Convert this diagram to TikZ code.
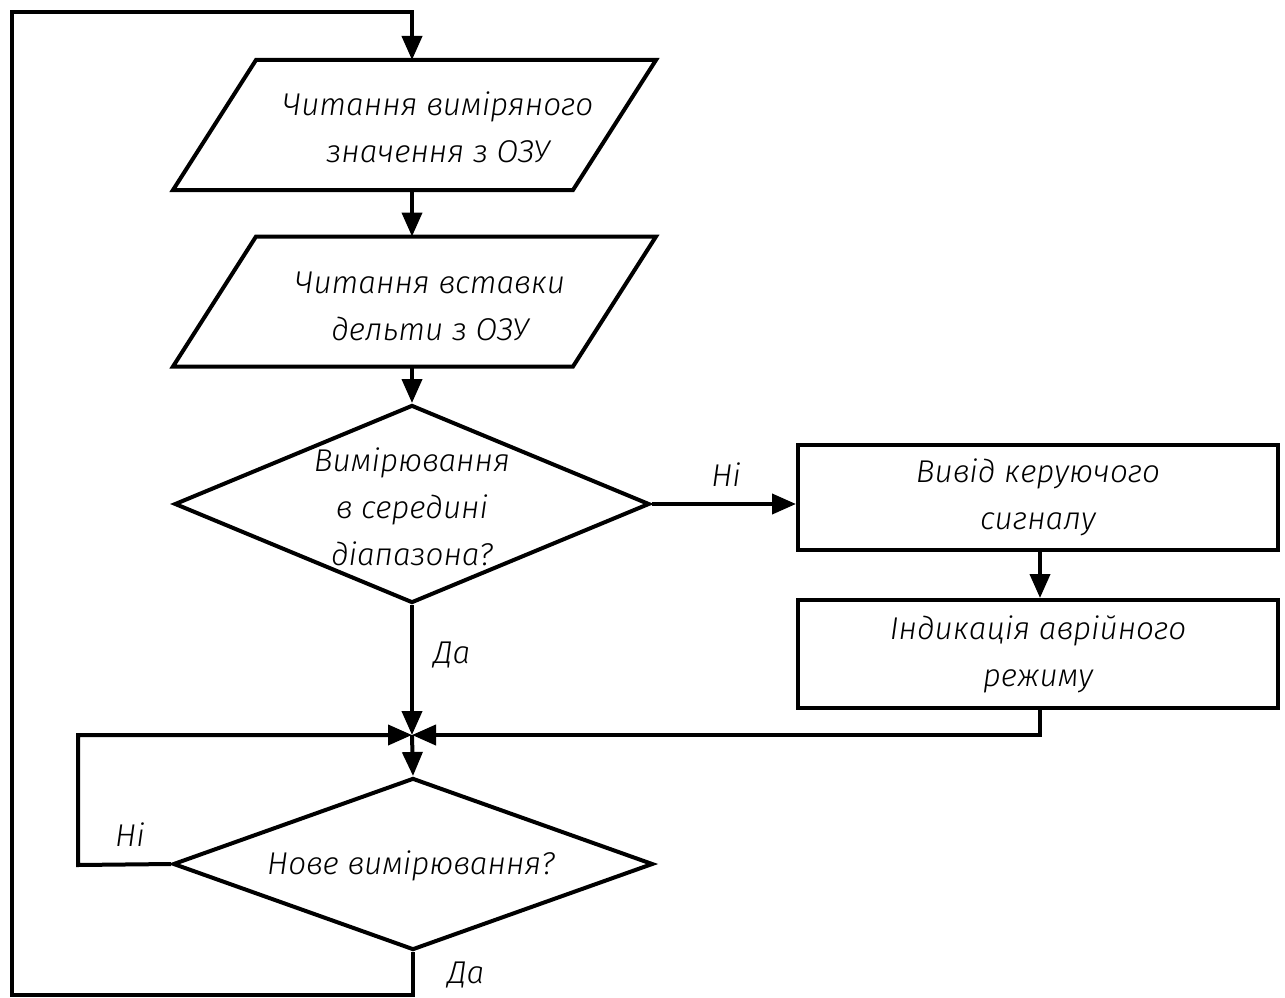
\documentclass[tikz,border=0pt]{standalone}
\usepackage{fontspec}
\setmainfont{Fira Sans Light Italic}
\usetikzlibrary{shapes.geometric,arrows.meta,calc}
\begin{document}
\begin{tikzpicture}[x=1pt,y=-1pt,
  line width=4pt,
  >={Triangle[length=24pt,width=20pt]},
  every node/.style={font=\fontsize{31.5}{47}\selectfont},
  pbase/.style={rectangle, minimum width=396pt, minimum height=126pt, inner sep=0pt},
  dia/.style={draw, diamond, inner sep=0pt, align=center},
  stepbox/.style={draw, rectangle, align=center, minimum width=480pt, inner sep=0pt},
  txt/.style={align=center, inner sep=0pt}
]
\useasboundingbox[fill=white] (0,0) rectangle (1285,998);

\coordinate (J) at (412,735);
\coordinate (nl) at (78,865);
\coordinate (lb) at (12,995);
\coordinate (lt) at (12,12);

\node[pbase] (p1) at (414.5,125) {};
\draw ([xshift=41.5pt]p1.north west) -- ([xshift=41.5pt]p1.north east)
  -- ([xshift=-41.5pt]p1.south east) -- ([xshift=-41.5pt]p1.south west) -- cycle;
\node[txt] (p1t) at (438,127) {Читання виміряного\\значення з ОЗУ};

\node[pbase] (p2) at (414.5,301.5) {};
\draw ([xshift=41.5pt]p2.north west) -- ([xshift=41.5pt]p2.north east)
  -- ([xshift=-41.5pt]p2.south east) -- ([xshift=-41.5pt]p2.south west) -- cycle;
\node[txt] (p2t) at (430,306) {Читання вставки\\дельти з ОЗУ};

\node[dia, minimum width=475pt, minimum height=198pt] (d1) at (412,504) {};
\node[txt] (d1t) at (412,507) {Вимірювання\\в середині\\діапазона?};

\node[stepbox, minimum height=105pt] (b1) at (1038,497.5) {Вивід керуючого\\сигналу};
\node[stepbox, minimum height=108pt] (b2) at (1038,654) {Індикація аврійного\\режиму};

\node[dia, minimum width=480pt, minimum height=172pt] (d2) at (413,864) {};
\node[txt] (d2t) at (411,866) {Нове вимірювання?};

\node[txt] (l1) at (726,475) {Ні};
\node[txt] (l2) at (452,655) {Да};
\node[txt] (l3) at (130,835) {Ні};
\node[txt] (l4) at (466,975) {Да};

\draw[->] (p1.south -| J) -- (p2.north -| J);
\draw[->] (p2.south -| J) -- (d1.north);
\draw[->] (d1.east) -- (d1.east -| b1.west);
\draw[->] (b1.south -| 1040,0) -- (b2.north -| 1040,0);
\draw[->] (b2.south -| 1040,0) |- (J);
\draw[->] (d1.south) -- (J);
\draw[->] (d2.west) -- (nl) |- (J);
\draw[->] (J) -- (d2.north);
\draw[->] (d2.south) |- (lb) -- (lt) -| (p1.north -| J);
\end{tikzpicture}
\end{document}
